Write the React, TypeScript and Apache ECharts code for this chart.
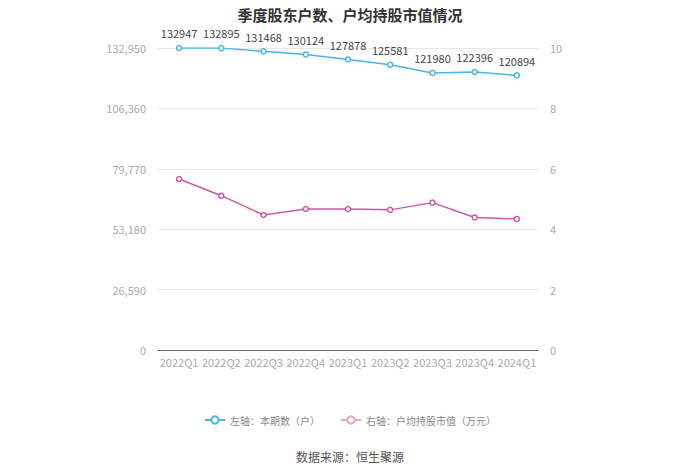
import React, { useEffect, useRef } from "react";
import * as echarts from "echarts";

const categories = ["2022Q1", "2022Q2", "2022Q3", "2022Q4", "2023Q1", "2023Q2", "2023Q3", "2023Q4", "2024Q1"];
const holders = [132947, 132895, 131468, 130124, 127878, 125581, 121980, 122396, 120894];
const avgValue = [5.66, 5.11, 4.47, 4.67, 4.67, 4.64, 4.88, 4.39, 4.34];
const leftTicks = { min: 0, max: 132950, interval: 26590 };
const rightTicks = { min: 0, max: 10, interval: 2 };

export default function App() {
  const ref = useRef<HTMLDivElement>(null);
  useEffect(() => {
    const chart = echarts.init(ref.current!, null, { renderer: "svg" });
    chart.setOption({
      animation: false,
      backgroundColor: "#fff",
      textStyle: { fontFamily: "'Noto Sans CJK SC', sans-serif" },
      title: {
        text: "季度股东户数、户均持股市值情况",
        left: "center",
        top: 2,
        textStyle: { fontSize: 15, fontWeight: "bold", color: "#333" },
      },
      grid: { left: 158, right: 162, top: 48, bottom: 124 },
      legend: {
        top: 410,
        left: "center",
        itemWidth: 20,
        itemHeight: 9,
        itemGap: 20,
        textStyle: { color: "#888", fontSize: 10 },
        data: [
          { name: "左轴：本期数（户）" },
          { name: "右轴：户均持股市值（万元）", itemStyle: { color: "#fff", borderColor: "#e8a6cf" }, lineStyle: { color: "#e8a6cf" } },
        ],
      },
      graphic: [
        {
          type: "text",
          left: "center",
          top: 450,
          style: { text: "数据来源：恒生聚源", fill: "#555", fontSize: 12, fontFamily: "'Noto Sans CJK SC', sans-serif" },
        },
      ],
      xAxis: {
        type: "category",
        data: categories,
        boundaryGap: true,
        axisLine: { lineStyle: { color: "#666" } },
        axisTick: { alignWithLabel: true, lineStyle: { color: "#666" } },
        axisLabel: { color: "#aaa", fontSize: 11, margin: 6, interval: 0 },
      },
      yAxis: [
        {
          type: "value",
          ...leftTicks,
          position: "left",
          axisLine: { show: false },
          axisTick: { show: false },
          axisLabel: { color: "#aaa", fontSize: 11, margin: 12, formatter: (v: number) => v.toLocaleString("en-US") },
          splitLine: { lineStyle: { color: "#e8e8e8" } },
        },
        {
          type: "value",
          ...rightTicks,
          position: "right",
          axisLine: { show: false },
          axisTick: { show: false },
          axisLabel: { color: "#aaa", fontSize: 11, margin: 12 },
          splitLine: { show: false },
        },
      ],
      series: [
        {
          name: "左轴：本期数（户）",
          type: "line",
          yAxisIndex: 0,
          data: holders,
          symbol: "circle",
          symbolSize: 5,
          color: "#4ab3e8",
          itemStyle: { color: "#fff", borderColor: "#4ab3e8", borderWidth: 1.5 },
          lineStyle: { color: "#4ab3e8", width: 1.5 },
          label: { show: true, position: "top", color: "#444", fontSize: 11, distance: 6 },
        },
        {
          name: "右轴：户均持股市值（万元）",
          type: "line",
          yAxisIndex: 1,
          data: avgValue,
          symbol: "circle",
          symbolSize: 5,
          color: "#d2569f",
          itemStyle: { color: "#fff", borderColor: "#d2569f", borderWidth: 1.5 },
          lineStyle: { color: "#d2569f", width: 1.5 },
        },
      ],
    });
    return () => chart.dispose();
  }, []);
  return <div ref={ref} style={{ position: "fixed", left: 0, top: 0, width: 700, height: 474 }} />;
}
